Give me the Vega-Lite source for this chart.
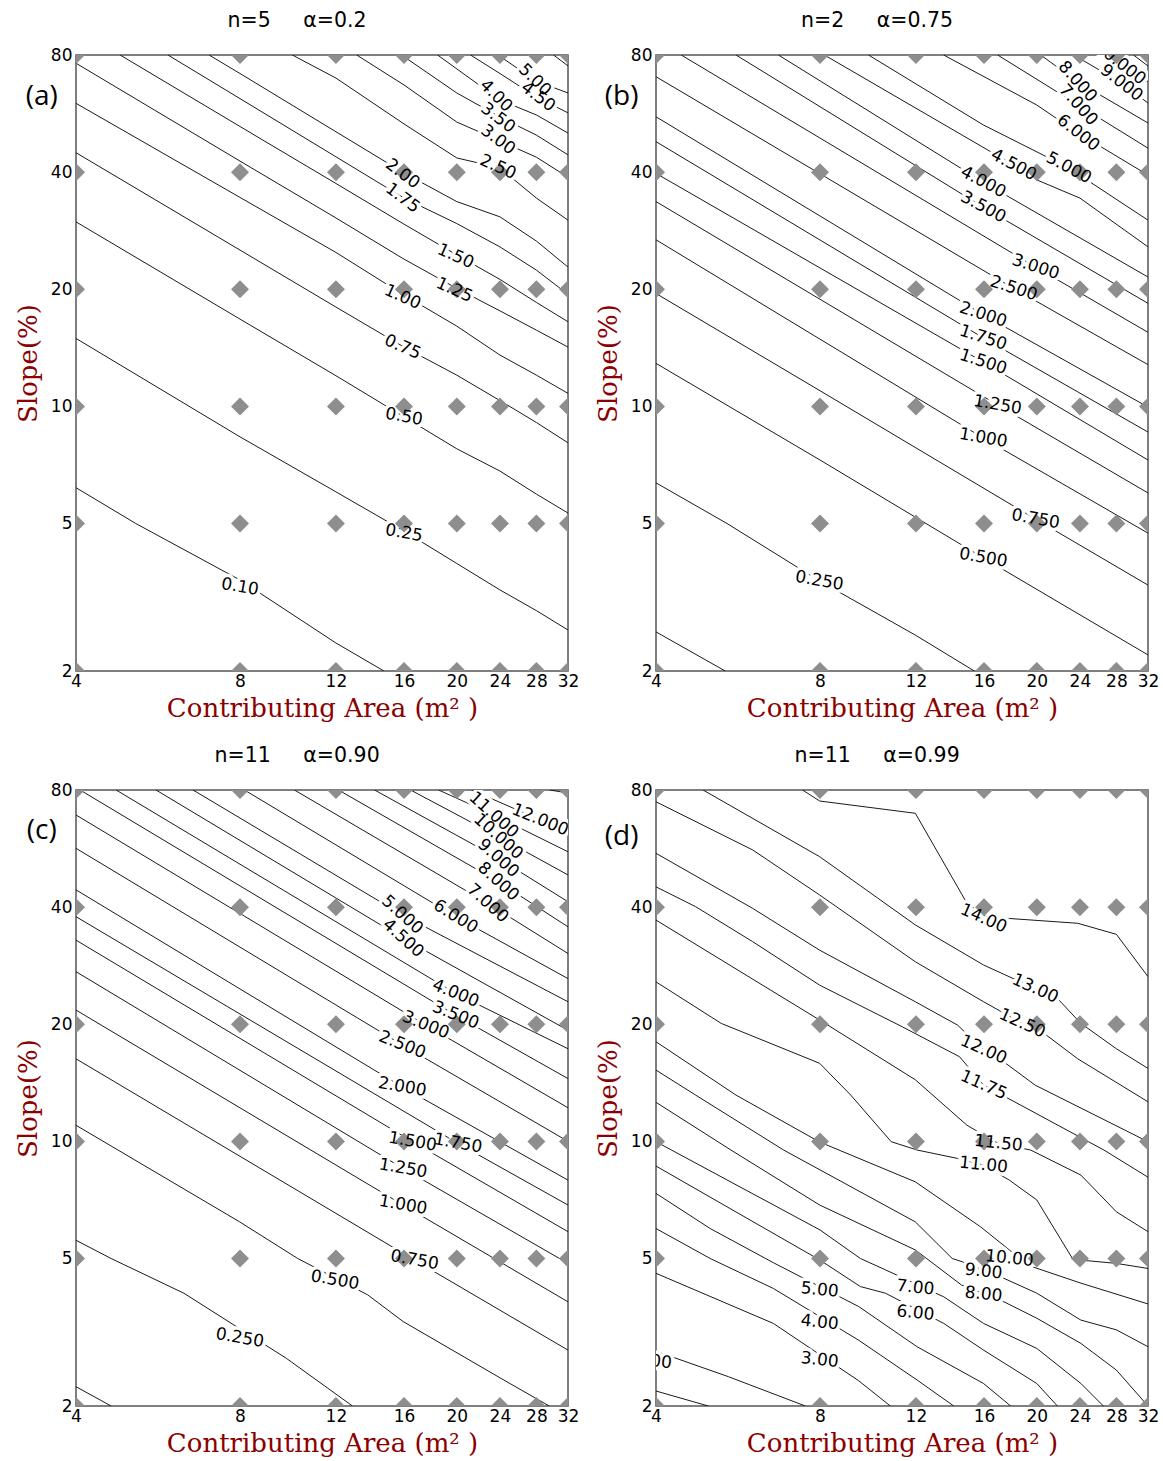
{
"$schema":"https://vega.github.io/schema/vega-lite/v6.json",
"background":"white",
"padding":{"left":14,"top":9,"right":5,"bottom":5},
"config":{
"view":{"stroke":"#555","strokeWidth":1.5},
"axis":{"labelFont":"DejaVu Sans","labelFontSize":17,"labelColor":"black","titleFont":"DejaVu Serif","titleFontSize":26,"titleFontWeight":"normal","titleColor":"#8b0000","grid":false,"ticks":false,"domain":false,"labelFlush":false,"labelOverlap":false},
"axisX":{"labelPadding":2,"titlePadding":6},
"axisY":{"labelPadding":4,"titlePadding":9},
"title":{"font":"DejaVu Sans","fontSize":20.5,"fontWeight":"normal","color":"black","anchor":"middle","frame":"bounds","offset":15}
},
"datasets":{
"grid":[
{"x":4,"y":2},{"x":8,"y":2},{"x":12,"y":2},{"x":16,"y":2},{"x":20,"y":2},{"x":24,"y":2},{"x":28,"y":2},{"x":32,"y":2},
{"x":4,"y":5},{"x":8,"y":5},{"x":12,"y":5},{"x":16,"y":5},{"x":20,"y":5},{"x":24,"y":5},{"x":28,"y":5},{"x":32,"y":5},
{"x":4,"y":10},{"x":8,"y":10},{"x":12,"y":10},{"x":16,"y":10},{"x":20,"y":10},{"x":24,"y":10},{"x":28,"y":10},{"x":32,"y":10},
{"x":4,"y":20},{"x":8,"y":20},{"x":12,"y":20},{"x":16,"y":20},{"x":20,"y":20},{"x":24,"y":20},{"x":28,"y":20},{"x":32,"y":20},
{"x":4,"y":40},{"x":8,"y":40},{"x":12,"y":40},{"x":16,"y":40},{"x":20,"y":40},{"x":24,"y":40},{"x":28,"y":40},{"x":32,"y":40},
{"x":4,"y":80},{"x":8,"y":80},{"x":12,"y":80},{"x":16,"y":80},{"x":20,"y":80},{"x":24,"y":80},{"x":28,"y":80},{"x":32,"y":80}
],
"tags":[
{"p":"a","t":"(a)","x":3.46,"y":62.5},
{"p":"b","t":"(b)","x":3.46,"y":62.5},
{"p":"c","t":"(c)","x":3.46,"y":62.6},
{"p":"d","t":"(d)","x":3.46,"y":60.7}
],
"labels":[
{"p":"a","t":"0.10","x":8,"y":3.37},{"p":"a","t":"0.25","x":16,"y":4.71},{"p":"a","t":"0.50","x":16,"y":9.4},{"p":"a","t":"0.75","x":15.9,"y":14.2},{"p":"a","t":"1.00","x":15.9,"y":19.1},{"p":"a","t":"1.25","x":19.8,"y":19.9},{"p":"a","t":"1.50","x":19.9,"y":24.3},{"p":"a","t":"1.75","x":15.9,"y":34.3},{"p":"a","t":"2.00","x":15.9,"y":39.6},{"p":"a","t":"2.50","x":23.8,"y":41.2},{"p":"a","t":"3.00","x":23.8,"y":48.4},{"p":"a","t":"3.50","x":23.8,"y":55.1},{"p":"a","t":"4.00","x":23.6,"y":62.8},{"p":"a","t":"4.50","x":28.2,"y":62.4},{"p":"a","t":"5.00","x":27.8,"y":69.0},
{"p":"b","t":"0.250","x":7.98,"y":3.5},{"p":"b","t":"0.500","x":15.95,"y":4.04},{"p":"b","t":"0.750","x":19.9,"y":5.13},{"p":"b","t":"1.000","x":15.95,"y":8.29},{"p":"b","t":"1.250","x":16.95,"y":10.08},{"p":"b","t":"1.500","x":15.95,"y":13.0},{"p":"b","t":"1.750","x":15.95,"y":15.0},{"p":"b","t":"2.000","x":15.95,"y":17.2},{"p":"b","t":"2.500","x":18.14,"y":20.1},{"p":"b","t":"3.000","x":19.9,"y":22.8},{"p":"b","t":"3.500","x":15.95,"y":32.5},{"p":"b","t":"4.000","x":15.95,"y":37.7},{"p":"b","t":"4.500","x":18.14,"y":41.7},{"p":"b","t":"5.000","x":22.89,"y":41.0},{"p":"b","t":"6.000","x":23.83,"y":50.4},{"p":"b","t":"7.000","x":23.83,"y":59.5},{"p":"b","t":"8.000","x":23.75,"y":68.3},{"p":"b","t":"9.000","x":28.6,"y":67.8},{"p":"b","t":"10.000","x":28.45,"y":76.2},
{"p":"c","t":"0.250","x":7.99,"y":3.05},{"p":"c","t":"0.500","x":11.95,"y":4.37},{"p":"c","t":"0.750","x":16.73,"y":4.95},{"p":"c","t":"1.000","x":15.94,"y":6.86},{"p":"c","t":"1.250","x":15.94,"y":8.52},{"p":"c","t":"1.500","x":16.59,"y":9.98},{"p":"c","t":"1.750","x":20.1,"y":9.88},{"p":"c","t":"2.000","x":15.88,"y":13.8},{"p":"c","t":"2.500","x":15.88,"y":17.7},{"p":"c","t":"3.000","x":17.54,"y":19.9},{"p":"c","t":"3.500","x":19.9,"y":21.1},{"p":"c","t":"4.000","x":19.9,"y":24.0},{"p":"c","t":"4.500","x":15.94,"y":33.25},{"p":"c","t":"5.000","x":15.88,"y":38.2},{"p":"c","t":"6.000","x":19.9,"y":37.8},{"p":"c","t":"7.000","x":22.79,"y":40.9},{"p":"c","t":"8.000","x":23.83,"y":46.5},{"p":"c","t":"9.000","x":23.83,"y":53.4},{"p":"c","t":"10.000","x":23.83,"y":60.7},{"p":"c","t":"11.000","x":23.38,"y":69.0},{"p":"c","t":"12.000","x":28.45,"y":67.0},
{"p":"d","t":"2.00","x":3.95,"y":2.64},{"p":"d","t":"3.00","x":7.99,"y":2.66},{"p":"d","t":"4.00","x":7.99,"y":3.36},{"p":"d","t":"5.00","x":7.99,"y":4.11},{"p":"d","t":"6.00","x":11.97,"y":3.56},{"p":"d","t":"7.00","x":11.97,"y":4.17},{"p":"d","t":"8.00","x":15.97,"y":4.0},{"p":"d","t":"9.00","x":15.97,"y":4.61},{"p":"d","t":"10.00","x":17.81,"y":5.0},{"p":"d","t":"11.00","x":15.97,"y":8.69},{"p":"d","t":"11.50","x":17.0,"y":9.88},{"p":"d","t":"11.75","x":15.97,"y":13.95},{"p":"d","t":"12.00","x":15.97,"y":17.2},{"p":"d","t":"12.50","x":18.81,"y":20.1},{"p":"d","t":"13.00","x":19.86,"y":24.7},{"p":"d","t":"14.00","x":15.97,"y":37.4}
],
"lines":[
{"p":"a","l":"0.10","x":4,"y":6.18},{"p":"a","l":"0.10","x":5.15,"y":5.0},{"p":"a","l":"0.10","x":8,"y":3.52},{"p":"a","l":"0.10","x":12,"y":2.38},{"p":"a","l":"0.10","x":14.7,"y":2},
{"p":"a","l":"0.25","x":4,"y":14.95},{"p":"a","l":"0.25","x":8,"y":8.35},{"p":"a","l":"0.25","x":12,"y":6.03},{"p":"a","l":"0.25","x":16,"y":4.77},{"p":"a","l":"0.25","x":20,"y":3.9},{"p":"a","l":"0.25","x":24,"y":3.31},{"p":"a","l":"0.25","x":28,"y":2.91},{"p":"a","l":"0.25","x":32,"y":2.58},
{"p":"a","l":"0.50","x":4,"y":29.8},{"p":"a","l":"0.50","x":8,"y":16.76},{"p":"a","l":"0.50","x":12,"y":11.99},{"p":"a","l":"0.50","x":16,"y":9.4},{"p":"a","l":"0.50","x":20,"y":7.78},{"p":"a","l":"0.50","x":24,"y":6.82},{"p":"a","l":"0.50","x":28,"y":5.95},{"p":"a","l":"0.50","x":32,"y":5.32},
{"p":"a","l":"0.75","x":4,"y":44.87},{"p":"a","l":"0.75","x":8,"y":25.22},{"p":"a","l":"0.75","x":12,"y":18},{"p":"a","l":"0.75","x":16,"y":14.2},{"p":"a","l":"0.75","x":20,"y":12.03},{"p":"a","l":"0.75","x":24,"y":10.35},{"p":"a","l":"0.75","x":28,"y":9.09},{"p":"a","l":"0.75","x":32,"y":8.06},
{"p":"a","l":"1.00","x":4,"y":60.1},{"p":"a","l":"1.00","x":8,"y":34.44},{"p":"a","l":"1.00","x":12,"y":24.87},{"p":"a","l":"1.00","x":16,"y":19.32},{"p":"a","l":"1.00","x":20,"y":16.08},{"p":"a","l":"1.00","x":24,"y":13.55},{"p":"a","l":"1.00","x":28,"y":12.03},{"p":"a","l":"1.00","x":32,"y":10.8},
{"p":"a","l":"1.25","x":4,"y":76.2},{"p":"a","l":"1.25","x":8,"y":42.7},{"p":"a","l":"1.25","x":12,"y":30.5},{"p":"a","l":"1.25","x":16,"y":23.9},{"p":"a","l":"1.25","x":20,"y":20.1},{"p":"a","l":"1.25","x":24,"y":17.6},{"p":"a","l":"1.25","x":28,"y":15.7},{"p":"a","l":"1.25","x":32,"y":14.2},
{"p":"a","l":"1.50","x":4.82,"y":80},{"p":"a","l":"1.50","x":8,"y":52.4},{"p":"a","l":"1.50","x":12,"y":37.4},{"p":"a","l":"1.50","x":16,"y":29.4},{"p":"a","l":"1.50","x":20,"y":24.5},{"p":"a","l":"1.50","x":24,"y":21.2},{"p":"a","l":"1.50","x":28,"y":18.5},{"p":"a","l":"1.50","x":32,"y":16.5},
{"p":"a","l":"1.75","x":5.9,"y":80},{"p":"a","l":"1.75","x":8,"y":61.8},{"p":"a","l":"1.75","x":12,"y":43.8},{"p":"a","l":"1.75","x":16,"y":34.3},{"p":"a","l":"1.75","x":20,"y":29.5},{"p":"a","l":"1.75","x":24,"y":25.7},{"p":"a","l":"1.75","x":28,"y":22.4},{"p":"a","l":"1.75","x":32,"y":19.4},
{"p":"a","l":"2.00","x":7.02,"y":80},{"p":"a","l":"2.00","x":8,"y":71.7},{"p":"a","l":"2.00","x":12,"y":50.8},{"p":"a","l":"2.00","x":16,"y":39.8},{"p":"a","l":"2.00","x":20,"y":33.6},{"p":"a","l":"2.00","x":24,"y":30.7},{"p":"a","l":"2.00","x":28,"y":26.6},{"p":"a","l":"2.00","x":32,"y":22.8},
{"p":"a","l":"2.50","x":9.98,"y":80},{"p":"a","l":"2.50","x":12,"y":69.8},{"p":"a","l":"2.50","x":16,"y":53.2},{"p":"a","l":"2.50","x":20,"y":43.5},{"p":"a","l":"2.50","x":24,"y":41},{"p":"a","l":"2.50","x":28,"y":34.3},{"p":"a","l":"2.50","x":32,"y":30.1},
{"p":"a","l":"3.00","x":13.1,"y":80},{"p":"a","l":"3.00","x":16,"y":67},{"p":"a","l":"3.00","x":20,"y":53.8},{"p":"a","l":"3.00","x":24,"y":48.1},{"p":"a","l":"3.00","x":28,"y":43.7},{"p":"a","l":"3.00","x":32,"y":38.8},
{"p":"a","l":"3.50","x":15.84,"y":80},{"p":"a","l":"3.50","x":20,"y":63.9},{"p":"a","l":"3.50","x":24,"y":55.4},{"p":"a","l":"3.50","x":28,"y":49.8},{"p":"a","l":"3.50","x":32,"y":44.3},
{"p":"a","l":"4.00","x":18.44,"y":80},{"p":"a","l":"4.00","x":24,"y":61.3},{"p":"a","l":"4.00","x":28,"y":56.1},{"p":"a","l":"4.00","x":32,"y":50.4},
{"p":"a","l":"4.50","x":21.2,"y":80},{"p":"a","l":"4.50","x":24,"y":71.7},{"p":"a","l":"4.50","x":28,"y":62.4},{"p":"a","l":"4.50","x":32,"y":56.8},
{"p":"a","l":"5.00","x":23.8,"y":80},{"p":"a","l":"5.00","x":28,"y":68.5},{"p":"a","l":"5.00","x":32,"y":63.9},
{"p":"a","l":"5.50","x":30.1,"y":80},{"p":"a","l":"5.50","x":32,"y":75},
{"p":"b","l":"0.100","x":4,"y":2.55},{"p":"b","l":"0.100","x":5.36,"y":2},
{"p":"b","l":"0.250","x":4,"y":6.36},{"p":"b","l":"0.250","x":5.4,"y":5.0},{"p":"b","l":"0.250","x":7.98,"y":3.5},{"p":"b","l":"0.250","x":11.97,"y":2.5},{"p":"b","l":"0.250","x":15.36,"y":2},
{"p":"b","l":"0.500","x":4,"y":12.9},{"p":"b","l":"0.500","x":8,"y":7.28},{"p":"b","l":"0.500","x":15.95,"y":4.04},{"p":"b","l":"0.500","x":32,"y":2.21},
{"p":"b","l":"0.750","x":4,"y":19.5},{"p":"b","l":"0.750","x":8,"y":10.97},{"p":"b","l":"0.750","x":19.9,"y":5.13},{"p":"b","l":"0.750","x":32,"y":3.41},
{"p":"b","l":"1.000","x":4,"y":26.8},{"p":"b","l":"1.000","x":15.95,"y":8.29},{"p":"b","l":"1.000","x":32,"y":4.71},
{"p":"b","l":"1.250","x":4,"y":33.6},{"p":"b","l":"1.250","x":16.95,"y":10.08},{"p":"b","l":"1.250","x":32,"y":5.99},
{"p":"b","l":"1.500","x":4,"y":39.7},{"p":"b","l":"1.500","x":15.95,"y":13.0},{"p":"b","l":"1.500","x":32,"y":7.28},
{"p":"b","l":"1.750","x":4,"y":47.9},{"p":"b","l":"1.750","x":15.95,"y":15.0},{"p":"b","l":"1.750","x":32,"y":8.59},
{"p":"b","l":"2.000","x":4,"y":55.5},{"p":"b","l":"2.000","x":15.95,"y":17.2},{"p":"b","l":"2.000","x":32,"y":9.96},
{"p":"b","l":"2.500","x":4,"y":70.35},{"p":"b","l":"2.500","x":18.14,"y":20.1},{"p":"b","l":"2.500","x":32,"y":12.8},
{"p":"b","l":"3.000","x":4.45,"y":80},{"p":"b","l":"3.000","x":19.9,"y":22.8},{"p":"b","l":"3.000","x":32,"y":15.5},
{"p":"b","l":"3.500","x":5.61,"y":80},{"p":"b","l":"3.500","x":15.95,"y":32.5},{"p":"b","l":"3.500","x":32,"y":18.4},
{"p":"b","l":"4.000","x":6.71,"y":80},{"p":"b","l":"4.000","x":15.95,"y":37.7},{"p":"b","l":"4.000","x":32,"y":21.5},
{"p":"b","l":"4.500","x":8.15,"y":80},{"p":"b","l":"4.500","x":18.14,"y":41.7},{"p":"b","l":"4.500","x":20,"y":38.2},{"p":"b","l":"4.500","x":24,"y":34.3},{"p":"b","l":"4.500","x":32,"y":25.7},
{"p":"b","l":"5.000","x":9.82,"y":80},{"p":"b","l":"5.000","x":15.95,"y":52.9},{"p":"b","l":"5.000","x":22.89,"y":41.0},{"p":"b","l":"5.000","x":32,"y":30.1},
{"p":"b","l":"6.000","x":13.49,"y":80},{"p":"b","l":"6.000","x":20,"y":59.5},{"p":"b","l":"6.000","x":23.83,"y":50.4},{"p":"b","l":"6.000","x":32,"y":39.3},
{"p":"b","l":"7.000","x":16.95,"y":80},{"p":"b","l":"7.000","x":23.83,"y":59.5},{"p":"b","l":"7.000","x":32,"y":46.1},
{"p":"b","l":"8.000","x":20.33,"y":80},{"p":"b","l":"8.000","x":23.75,"y":68.3},{"p":"b","l":"8.000","x":32,"y":53.5},
{"p":"b","l":"9.000","x":23.38,"y":80},{"p":"b","l":"9.000","x":28.6,"y":67.8},{"p":"b","l":"9.000","x":32,"y":60.2},
{"p":"b","l":"10.000","x":26.5,"y":80},{"p":"b","l":"10.000","x":28.45,"y":76.2},{"p":"b","l":"10.000","x":32,"y":68.2},
{"p":"b","l":"11.000","x":30.1,"y":80},{"p":"b","l":"11.000","x":32,"y":74.95},
{"p":"c","l":"0.100","x":4,"y":2.255},{"p":"c","l":"0.100","x":4.64,"y":2},
{"p":"c","l":"0.250","x":4,"y":5.57},{"p":"c","l":"0.250","x":4.64,"y":5.0},{"p":"c","l":"0.250","x":6.31,"y":4.03},{"p":"c","l":"0.250","x":9.73,"y":2.69},{"p":"c","l":"0.250","x":12.87,"y":2},
{"p":"c","l":"0.500","x":4,"y":11.0},{"p":"c","l":"0.500","x":7.99,"y":6.21},{"p":"c","l":"0.500","x":10.21,"y":5.0},{"p":"c","l":"0.500","x":13.72,"y":3.99},{"p":"c","l":"0.500","x":15.94,"y":3.38},{"p":"c","l":"0.500","x":24.1,"y":2.375},{"p":"c","l":"0.500","x":29.55,"y":2},
{"p":"c","l":"0.750","x":4,"y":16.3},{"p":"c","l":"0.750","x":16.73,"y":4.95},{"p":"c","l":"0.750","x":32,"y":2.83},
{"p":"c","l":"1.000","x":4,"y":21.75},{"p":"c","l":"1.000","x":15.94,"y":6.86},{"p":"c","l":"1.000","x":32,"y":3.82},
{"p":"c","l":"1.250","x":4,"y":27.3},{"p":"c","l":"1.250","x":15.94,"y":8.52},{"p":"c","l":"1.250","x":32,"y":4.85},
{"p":"c","l":"1.500","x":4,"y":32.9},{"p":"c","l":"1.500","x":16.59,"y":9.98},{"p":"c","l":"1.500","x":32,"y":5.86},
{"p":"c","l":"1.750","x":4,"y":37.8},{"p":"c","l":"1.750","x":20.1,"y":9.88},{"p":"c","l":"1.750","x":32,"y":6.86},
{"p":"c","l":"2.000","x":4,"y":44.3},{"p":"c","l":"2.000","x":15.88,"y":13.8},{"p":"c","l":"2.000","x":32,"y":7.95},
{"p":"c","l":"2.500","x":4,"y":56.65},{"p":"c","l":"2.500","x":15.88,"y":17.7},{"p":"c","l":"2.500","x":32,"y":10.0},
{"p":"c","l":"3.000","x":4,"y":69.0},{"p":"c","l":"3.000","x":17.54,"y":19.9},{"p":"c","l":"3.000","x":32,"y":12.2},
{"p":"c","l":"3.500","x":4.07,"y":80},{"p":"c","l":"3.500","x":19.9,"y":21.1},{"p":"c","l":"3.500","x":32,"y":14.5},
{"p":"c","l":"4.000","x":4.74,"y":80},{"p":"c","l":"4.000","x":19.9,"y":24.0},{"p":"c","l":"4.000","x":32,"y":17.3},
{"p":"c","l":"4.500","x":5.61,"y":80},{"p":"c","l":"4.500","x":15.94,"y":33.25},{"p":"c","l":"4.500","x":32,"y":19.3},
{"p":"c","l":"5.000","x":6.56,"y":80},{"p":"c","l":"5.000","x":15.88,"y":38.2},{"p":"c","l":"5.000","x":32,"y":22.85},
{"p":"c","l":"6.000","x":8.15,"y":80},{"p":"c","l":"6.000","x":19.9,"y":37.8},{"p":"c","l":"6.000","x":32,"y":26.2},
{"p":"c","l":"7.000","x":10.07,"y":80},{"p":"c","l":"7.000","x":22.79,"y":40.9},{"p":"c","l":"7.000","x":32,"y":30.4},
{"p":"c","l":"8.000","x":12.13,"y":80},{"p":"c","l":"8.000","x":23.83,"y":46.5},{"p":"c","l":"8.000","x":32,"y":35.6},
{"p":"c","l":"9.000","x":14.13,"y":80},{"p":"c","l":"9.000","x":23.83,"y":53.4},{"p":"c","l":"9.000","x":32,"y":41.3},
{"p":"c","l":"10.000","x":16.45,"y":80},{"p":"c","l":"10.000","x":23.83,"y":60.7},{"p":"c","l":"10.000","x":32,"y":48.4},
{"p":"c","l":"11.000","x":18.52,"y":80},{"p":"c","l":"11.000","x":23.38,"y":69.0},{"p":"c","l":"11.000","x":32,"y":55.5},
{"p":"c","l":"12.000","x":21.3,"y":80},{"p":"c","l":"12.000","x":28.45,"y":67.0},{"p":"c","l":"12.000","x":32,"y":63.8},
{"p":"c","l":"13.000","x":29.6,"y":80},{"p":"c","l":"13.000","x":32,"y":78.6},
{"p":"d","l":"1.00","x":4,"y":2.195},{"p":"d","l":"1.00","x":4.99,"y":2},
{"p":"d","l":"2.00","x":4,"y":2.81},{"p":"d","l":"2.00","x":5.43,"y":2.4},{"p":"d","l":"2.00","x":7.52,"y":2},
{"p":"d","l":"3.00","x":4,"y":4.56},{"p":"d","l":"3.00","x":6.57,"y":3.34},{"p":"d","l":"3.00","x":9.42,"y":2.34},{"p":"d","l":"3.00","x":10.77,"y":2},
{"p":"d","l":"4.00","x":4,"y":5.97},{"p":"d","l":"4.00","x":5.03,"y":5.0},{"p":"d","l":"4.00","x":6.57,"y":4.15},{"p":"d","l":"4.00","x":9.42,"y":3.01},{"p":"d","l":"4.00","x":12.06,"y":2.35},{"p":"d","l":"4.00","x":14.08,"y":2},
{"p":"d","l":"5.00","x":4,"y":7.35},{"p":"d","l":"5.00","x":5.03,"y":5.97},{"p":"d","l":"5.00","x":6.57,"y":4.87},{"p":"d","l":"5.00","x":9.42,"y":3.71},{"p":"d","l":"5.00","x":12.06,"y":2.89},{"p":"d","l":"5.00","x":15.97,"y":2.3},{"p":"d","l":"5.00","x":17.91,"y":2},
{"p":"d","l":"6.00","x":4,"y":8.64},{"p":"d","l":"6.00","x":8,"y":4.95},{"p":"d","l":"6.00","x":9.49,"y":4.2},{"p":"d","l":"6.00","x":10.55,"y":4.03},{"p":"d","l":"6.00","x":13.5,"y":3.34},{"p":"d","l":"6.00","x":15.97,"y":2.83},{"p":"d","l":"6.00","x":20,"y":2.3},{"p":"d","l":"6.00","x":21.82,"y":2},
{"p":"d","l":"7.00","x":4,"y":9.98},{"p":"d","l":"7.00","x":4.27,"y":9.5},{"p":"d","l":"7.00","x":8,"y":5.92},{"p":"d","l":"7.00","x":9.49,"y":5.0},{"p":"d","l":"7.00","x":10.55,"y":4.66},{"p":"d","l":"7.00","x":13.5,"y":3.94},{"p":"d","l":"7.00","x":15.97,"y":3.34},{"p":"d","l":"7.00","x":20,"y":2.86},{"p":"d","l":"7.00","x":24.1,"y":2.3},{"p":"d","l":"7.00","x":26.5,"y":2},
{"p":"d","l":"8.00","x":4,"y":12.6},{"p":"d","l":"8.00","x":5.49,"y":9.5},{"p":"d","l":"8.00","x":7.99,"y":6.86},{"p":"d","l":"8.00","x":11.97,"y":5.26},{"p":"d","l":"8.00","x":14.55,"y":4.24},{"p":"d","l":"8.00","x":17.41,"y":3.82},{"p":"d","l":"8.00","x":20,"y":3.45},{"p":"d","l":"8.00","x":24.1,"y":2.95},{"p":"d","l":"8.00","x":28,"y":2.5},{"p":"d","l":"8.00","x":32,"y":2},
{"p":"d","l":"9.00","x":4,"y":15.25},{"p":"d","l":"9.00","x":4.73,"y":13.15},{"p":"d","l":"9.00","x":6.86,"y":9.5},{"p":"d","l":"9.00","x":11.97,"y":6.21},{"p":"d","l":"9.00","x":13.99,"y":5.0},{"p":"d","l":"9.00","x":14.59,"y":4.9},{"p":"d","l":"9.00","x":17.41,"y":4.42},{"p":"d","l":"9.00","x":20,"y":4.03},{"p":"d","l":"9.00","x":24.1,"y":3.41},{"p":"d","l":"9.00","x":28,"y":3.21},{"p":"d","l":"9.00","x":32,"y":2.89},
{"p":"d","l":"10.00","x":4,"y":18.03},{"p":"d","l":"10.00","x":5.61,"y":13.15},{"p":"d","l":"10.00","x":7.99,"y":9.96},{"p":"d","l":"10.00","x":11.97,"y":7.87},{"p":"d","l":"10.00","x":15.77,"y":6.03},{"p":"d","l":"10.00","x":17.81,"y":5.26},{"p":"d","l":"10.00","x":19.22,"y":4.8},{"p":"d","l":"10.00","x":24.1,"y":4.29},{"p":"d","l":"10.00","x":32,"y":3.77},
{"p":"d","l":"11.00","x":4,"y":25.7},{"p":"d","l":"11.00","x":5.27,"y":20.1},{"p":"d","l":"11.00","x":7.99,"y":15.87},{"p":"d","l":"11.00","x":9.11,"y":13.15},{"p":"d","l":"11.00","x":10.81,"y":9.98},{"p":"d","l":"11.00","x":12.06,"y":9.5},{"p":"d","l":"11.00","x":14.31,"y":9.04},{"p":"d","l":"11.00","x":15.97,"y":8.69},{"p":"d","l":"11.00","x":17.81,"y":7.95},{"p":"d","l":"11.00","x":20,"y":7.07},{"p":"d","l":"11.00","x":23.25,"y":5.0},{"p":"d","l":"11.00","x":24.1,"y":4.95},{"p":"d","l":"11.00","x":28,"y":4.85},{"p":"d","l":"11.00","x":32,"y":4.7},
{"p":"d","l":"11.50","x":4,"y":37.05},{"p":"d","l":"11.50","x":7.99,"y":20.5},{"p":"d","l":"11.50","x":11.97,"y":14.4},{"p":"d","l":"11.50","x":14.89,"y":11.0},{"p":"d","l":"11.50","x":17,"y":9.88},{"p":"d","l":"11.50","x":19.49,"y":9.5},{"p":"d","l":"11.50","x":24.1,"y":8.19},{"p":"d","l":"11.50","x":28,"y":6.59},{"p":"d","l":"11.50","x":32,"y":5.86},
{"p":"d","l":"11.75","x":4,"y":45.1},{"p":"d","l":"11.75","x":4.73,"y":40.1},{"p":"d","l":"11.75","x":6.02,"y":32.6},{"p":"d","l":"11.75","x":7.99,"y":25.2},{"p":"d","l":"11.75","x":11.33,"y":19.7},{"p":"d","l":"11.75","x":14.43,"y":16.5},{"p":"d","l":"11.75","x":15.97,"y":13.95},{"p":"d","l":"11.75","x":26.56,"y":9.5},{"p":"d","l":"11.75","x":32,"y":8.09},
{"p":"d","l":"12.00","x":4,"y":55.0},{"p":"d","l":"12.00","x":6.02,"y":39.7},{"p":"d","l":"12.00","x":7.99,"y":31.0},{"p":"d","l":"12.00","x":11.97,"y":22.85},{"p":"d","l":"12.00","x":14.31,"y":19.9},{"p":"d","l":"12.00","x":15.97,"y":17.2},{"p":"d","l":"12.00","x":17.54,"y":15.87},{"p":"d","l":"12.00","x":19.86,"y":13.95},{"p":"d","l":"12.00","x":32,"y":9.98},
{"p":"d","l":"12.50","x":4,"y":74.6},{"p":"d","l":"12.50","x":6.02,"y":56.1},{"p":"d","l":"12.50","x":7.99,"y":42.97},{"p":"d","l":"12.50","x":11.97,"y":28.95},{"p":"d","l":"12.50","x":15.97,"y":22.85},{"p":"d","l":"12.50","x":18.81,"y":20.1},{"p":"d","l":"12.50","x":20.82,"y":18.76},{"p":"d","l":"12.50","x":23.78,"y":16.3},{"p":"d","l":"12.50","x":32,"y":12.64},
{"p":"d","l":"13.00","x":4.88,"y":80},{"p":"d","l":"13.00","x":7.99,"y":53.9},{"p":"d","l":"13.00","x":11.97,"y":36.0},{"p":"d","l":"13.00","x":15.97,"y":28.4},{"p":"d","l":"13.00","x":19.86,"y":24.7},{"p":"d","l":"13.00","x":21.82,"y":23.3},{"p":"d","l":"13.00","x":24.1,"y":20.1},{"p":"d","l":"13.00","x":28,"y":17.3},{"p":"d","l":"13.00","x":32,"y":15.4},
{"p":"d","l":"14.00","x":7.43,"y":80},{"p":"d","l":"14.00","x":7.99,"y":74.95},{"p":"d","l":"14.00","x":11.97,"y":69.7},{"p":"d","l":"14.00","x":14.89,"y":40.9},{"p":"d","l":"14.00","x":16.18,"y":37.7},{"p":"d","l":"14.00","x":17.81,"y":37.4},{"p":"d","l":"14.00","x":23.78,"y":36.35},{"p":"d","l":"14.00","x":28,"y":34.05},{"p":"d","l":"14.00","x":32,"y":26.5}
]
},
"columns":2,
"spacing":{"row":119,"column":88},
"bounds":"flush",
"concat":[
{"width":492,"height":616,
"title":{"text":"n=5\u00a0\u00a0\u00a0\u00a0\u00a0α=0.2"},
"encoding":{
"x":{"field":"x","type":"quantitative","scale":{"type":"log","domain":[4,32],"nice":false},"axis":{"values":[4,8,12,16,20,24,28,32],"format":"d","title":"Contributing Area (m² )"}},
"y":{"field":"y","type":"quantitative","scale":{"type":"log","domain":[2,5,80],"range":[616,468.5,0],"nice":false},"axis":{"values":[2,5,10,20,40,80],"format":"d","title":"Slope(%)"}}},
"layer":[
{"data":{"name":"lines"},"transform":[{"filter":"datum.p=='a'"}],"mark":{"type":"line","clip":true,"color":"#1a1a1a","strokeWidth":1},"encoding":{"detail":{"field":"l"}}},
{"data":{"name":"labels"},"transform":[{"filter":{"and":[{"field":"p","equal":"a"},{"field":"t","oneOf":["0.10","0.25","0.50"]}]}}],"mark":{"type":"text","angle":10,"font":"DejaVu Sans","fontSize":17,"fill":"white","stroke":"white","strokeWidth":7,"strokeJoin":"round","clip":true},"encoding":{"text":{"field":"t"}}},
{"data":{"name":"labels"},"transform":[{"filter":{"and":[{"field":"p","equal":"a"},{"field":"t","oneOf":["0.75","1.00","1.25","1.50","2.50"]}]}}],"mark":{"type":"text","angle":24,"font":"DejaVu Sans","fontSize":17,"fill":"white","stroke":"white","strokeWidth":7,"strokeJoin":"round","clip":true},"encoding":{"text":{"field":"t"}}},
{"data":{"name":"labels"},"transform":[{"filter":{"and":[{"field":"p","equal":"a"},{"field":"t","oneOf":["1.75","2.00","3.00","3.50","4.50"]}]}}],"mark":{"type":"text","angle":37,"font":"DejaVu Sans","fontSize":17,"fill":"white","stroke":"white","strokeWidth":7,"strokeJoin":"round","clip":true},"encoding":{"text":{"field":"t"}}},
{"data":{"name":"labels"},"transform":[{"filter":{"and":[{"field":"p","equal":"a"},{"field":"t","oneOf":["4.00","5.00"]}]}}],"mark":{"type":"text","angle":45,"font":"DejaVu Sans","fontSize":17,"fill":"white","stroke":"white","strokeWidth":7,"strokeJoin":"round","clip":true},"encoding":{"text":{"field":"t"}}},
{"data":{"name":"grid"},"mark":{"type":"point","shape":"diamond","filled":true,"size":324,"color":"#8e8e8e","opacity":1,"clip":true}},
{"data":{"name":"labels"},"transform":[{"filter":{"and":[{"field":"p","equal":"a"},{"field":"t","oneOf":["0.10","0.25","0.50"]}]}}],"mark":{"type":"text","angle":10,"font":"DejaVu Sans","fontSize":17,"fill":"black","clip":true},"encoding":{"text":{"field":"t"}}},
{"data":{"name":"labels"},"transform":[{"filter":{"and":[{"field":"p","equal":"a"},{"field":"t","oneOf":["0.75","1.00","1.25","1.50","2.50"]}]}}],"mark":{"type":"text","angle":24,"font":"DejaVu Sans","fontSize":17,"fill":"black","clip":true},"encoding":{"text":{"field":"t"}}},
{"data":{"name":"labels"},"transform":[{"filter":{"and":[{"field":"p","equal":"a"},{"field":"t","oneOf":["1.75","2.00","3.00","3.50","4.50"]}]}}],"mark":{"type":"text","angle":37,"font":"DejaVu Sans","fontSize":17,"fill":"black","clip":true},"encoding":{"text":{"field":"t"}}},
{"data":{"name":"labels"},"transform":[{"filter":{"and":[{"field":"p","equal":"a"},{"field":"t","oneOf":["4.00","5.00"]}]}}],"mark":{"type":"text","angle":45,"font":"DejaVu Sans","fontSize":17,"fill":"black","clip":true},"encoding":{"text":{"field":"t"}}},
{"data":{"name":"tags"},"transform":[{"filter":"datum.p=='a'"}],"mark":{"type":"text","font":"Open Sans","fontSize":28,"fill":"black"},"encoding":{"text":{"field":"t"}}}
]},
{"width":492,"height":616,
"title":{"text":"n=2\u00a0\u00a0\u00a0\u00a0\u00a0α=0.75"},
"encoding":{
"x":{"field":"x","type":"quantitative","scale":{"type":"log","domain":[4,32],"nice":false},"axis":{"values":[4,8,12,16,20,24,28,32],"format":"d","title":"Contributing Area (m² )"}},
"y":{"field":"y","type":"quantitative","scale":{"type":"log","domain":[2,5,80],"range":[616,468.5,0],"nice":false},"axis":{"values":[2,5,10,20,40,80],"format":"d","title":"Slope(%)"}}},
"layer":[
{"data":{"name":"lines"},"transform":[{"filter":"datum.p=='b'"}],"mark":{"type":"line","clip":true,"color":"#1a1a1a","strokeWidth":1},"encoding":{"detail":{"field":"l"}}},
{"data":{"name":"labels"},"transform":[{"filter":{"and":[{"field":"p","equal":"b"},{"field":"t","oneOf":["0.250","0.500","0.750","1.000","1.250"]}]}}],"mark":{"type":"text","angle":10,"font":"DejaVu Sans","fontSize":17,"fill":"white","stroke":"white","strokeWidth":7,"strokeJoin":"round","clip":true},"encoding":{"text":{"field":"t"}}},
{"data":{"name":"labels"},"transform":[{"filter":{"and":[{"field":"p","equal":"b"},{"field":"t","oneOf":["1.500","1.750","2.000","2.500","3.000"]}]}}],"mark":{"type":"text","angle":18,"font":"DejaVu Sans","fontSize":17,"fill":"white","stroke":"white","strokeWidth":7,"strokeJoin":"round","clip":true},"encoding":{"text":{"field":"t"}}},
{"data":{"name":"labels"},"transform":[{"filter":{"and":[{"field":"p","equal":"b"},{"field":"t","oneOf":["3.500","4.000","4.500","5.000"]}]}}],"mark":{"type":"text","angle":28,"font":"DejaVu Sans","fontSize":17,"fill":"white","stroke":"white","strokeWidth":7,"strokeJoin":"round","clip":true},"encoding":{"text":{"field":"t"}}},
{"data":{"name":"labels"},"transform":[{"filter":{"and":[{"field":"p","equal":"b"},{"field":"t","oneOf":["6.000","9.000","10.000"]}]}}],"mark":{"type":"text","angle":38,"font":"DejaVu Sans","fontSize":17,"fill":"white","stroke":"white","strokeWidth":7,"strokeJoin":"round","clip":true},"encoding":{"text":{"field":"t"}}},
{"data":{"name":"labels"},"transform":[{"filter":{"and":[{"field":"p","equal":"b"},{"field":"t","oneOf":["7.000","8.000"]}]}}],"mark":{"type":"text","angle":48,"font":"DejaVu Sans","fontSize":17,"fill":"white","stroke":"white","strokeWidth":7,"strokeJoin":"round","clip":true},"encoding":{"text":{"field":"t"}}},
{"data":{"name":"grid"},"mark":{"type":"point","shape":"diamond","filled":true,"size":324,"color":"#8e8e8e","opacity":1,"clip":true}},
{"data":{"name":"labels"},"transform":[{"filter":{"and":[{"field":"p","equal":"b"},{"field":"t","oneOf":["0.250","0.500","0.750","1.000","1.250"]}]}}],"mark":{"type":"text","angle":10,"font":"DejaVu Sans","fontSize":17,"fill":"black","clip":true},"encoding":{"text":{"field":"t"}}},
{"data":{"name":"labels"},"transform":[{"filter":{"and":[{"field":"p","equal":"b"},{"field":"t","oneOf":["1.500","1.750","2.000","2.500","3.000"]}]}}],"mark":{"type":"text","angle":18,"font":"DejaVu Sans","fontSize":17,"fill":"black","clip":true},"encoding":{"text":{"field":"t"}}},
{"data":{"name":"labels"},"transform":[{"filter":{"and":[{"field":"p","equal":"b"},{"field":"t","oneOf":["3.500","4.000","4.500","5.000"]}]}}],"mark":{"type":"text","angle":28,"font":"DejaVu Sans","fontSize":17,"fill":"black","clip":true},"encoding":{"text":{"field":"t"}}},
{"data":{"name":"labels"},"transform":[{"filter":{"and":[{"field":"p","equal":"b"},{"field":"t","oneOf":["6.000","9.000","10.000"]}]}}],"mark":{"type":"text","angle":38,"font":"DejaVu Sans","fontSize":17,"fill":"black","clip":true},"encoding":{"text":{"field":"t"}}},
{"data":{"name":"labels"},"transform":[{"filter":{"and":[{"field":"p","equal":"b"},{"field":"t","oneOf":["7.000","8.000"]}]}}],"mark":{"type":"text","angle":48,"font":"DejaVu Sans","fontSize":17,"fill":"black","clip":true},"encoding":{"text":{"field":"t"}}},
{"data":{"name":"tags"},"transform":[{"filter":"datum.p=='b'"}],"mark":{"type":"text","font":"Open Sans","fontSize":28,"fill":"black"},"encoding":{"text":{"field":"t"}}}
]},
{"width":492,"height":616,
"title":{"text":"n=11\u00a0\u00a0\u00a0\u00a0\u00a0α=0.90"},
"encoding":{
"x":{"field":"x","type":"quantitative","scale":{"type":"log","domain":[4,32],"nice":false},"axis":{"values":[4,8,12,16,20,24,28,32],"format":"d","title":"Contributing Area (m² )"}},
"y":{"field":"y","type":"quantitative","scale":{"type":"log","domain":[2,5,80],"range":[616,468.5,0],"nice":false},"axis":{"values":[2,5,10,20,40,80],"format":"d","title":"Slope(%)"}}},
"layer":[
{"data":{"name":"lines"},"transform":[{"filter":"datum.p=='c'"}],"mark":{"type":"line","clip":true,"color":"#1a1a1a","strokeWidth":1},"encoding":{"detail":{"field":"l"}}},
{"data":{"name":"labels"},"transform":[{"filter":{"and":[{"field":"p","equal":"c"},{"field":"t","oneOf":["0.250","0.500","0.750","1.000","1.250","1.500","1.750","2.000"]}]}}],"mark":{"type":"text","angle":10,"font":"DejaVu Sans","fontSize":17,"fill":"white","stroke":"white","strokeWidth":7,"strokeJoin":"round","clip":true},"encoding":{"text":{"field":"t"}}},
{"data":{"name":"labels"},"transform":[{"filter":{"and":[{"field":"p","equal":"c"},{"field":"t","oneOf":["2.500","3.000","3.500","4.000","12.000"]}]}}],"mark":{"type":"text","angle":22,"font":"DejaVu Sans","fontSize":17,"fill":"white","stroke":"white","strokeWidth":7,"strokeJoin":"round","clip":true},"encoding":{"text":{"field":"t"}}},
{"data":{"name":"labels"},"transform":[{"filter":{"and":[{"field":"p","equal":"c"},{"field":"t","oneOf":["6.000"]}]}}],"mark":{"type":"text","angle":32,"font":"DejaVu Sans","fontSize":17,"fill":"white","stroke":"white","strokeWidth":7,"strokeJoin":"round","clip":true},"encoding":{"text":{"field":"t"}}},
{"data":{"name":"labels"},"transform":[{"filter":{"and":[{"field":"p","equal":"c"},{"field":"t","oneOf":["4.500","5.000","7.000","8.000","9.000","10.000","11.000"]}]}}],"mark":{"type":"text","angle":42,"font":"DejaVu Sans","fontSize":17,"fill":"white","stroke":"white","strokeWidth":7,"strokeJoin":"round","clip":true},"encoding":{"text":{"field":"t"}}},
{"data":{"name":"grid"},"mark":{"type":"point","shape":"diamond","filled":true,"size":324,"color":"#8e8e8e","opacity":1,"clip":true}},
{"data":{"name":"labels"},"transform":[{"filter":{"and":[{"field":"p","equal":"c"},{"field":"t","oneOf":["0.250","0.500","0.750","1.000","1.250","1.500","1.750","2.000"]}]}}],"mark":{"type":"text","angle":10,"font":"DejaVu Sans","fontSize":17,"fill":"black","clip":true},"encoding":{"text":{"field":"t"}}},
{"data":{"name":"labels"},"transform":[{"filter":{"and":[{"field":"p","equal":"c"},{"field":"t","oneOf":["2.500","3.000","3.500","4.000","12.000"]}]}}],"mark":{"type":"text","angle":22,"font":"DejaVu Sans","fontSize":17,"fill":"black","clip":true},"encoding":{"text":{"field":"t"}}},
{"data":{"name":"labels"},"transform":[{"filter":{"and":[{"field":"p","equal":"c"},{"field":"t","oneOf":["6.000"]}]}}],"mark":{"type":"text","angle":32,"font":"DejaVu Sans","fontSize":17,"fill":"black","clip":true},"encoding":{"text":{"field":"t"}}},
{"data":{"name":"labels"},"transform":[{"filter":{"and":[{"field":"p","equal":"c"},{"field":"t","oneOf":["4.500","5.000","7.000","8.000","9.000","10.000","11.000"]}]}}],"mark":{"type":"text","angle":42,"font":"DejaVu Sans","fontSize":17,"fill":"black","clip":true},"encoding":{"text":{"field":"t"}}},
{"data":{"name":"tags"},"transform":[{"filter":"datum.p=='c'"}],"mark":{"type":"text","font":"Open Sans","fontSize":28,"fill":"black"},"encoding":{"text":{"field":"t"}}}
]},
{"width":492,"height":616,
"title":{"text":"n=11\u00a0\u00a0\u00a0\u00a0\u00a0α=0.99"},
"encoding":{
"x":{"field":"x","type":"quantitative","scale":{"type":"log","domain":[4,32],"nice":false},"axis":{"values":[4,8,12,16,20,24,28,32],"format":"d","title":"Contributing Area (m² )"}},
"y":{"field":"y","type":"quantitative","scale":{"type":"log","domain":[2,5,80],"range":[616,468.5,0],"nice":false},"axis":{"values":[2,5,10,20,40,80],"format":"d","title":"Slope(%)"}}},
"layer":[
{"data":{"name":"lines"},"transform":[{"filter":"datum.p=='d'"}],"mark":{"type":"line","clip":true,"color":"#1a1a1a","strokeWidth":1},"encoding":{"detail":{"field":"l"}}},
{"data":{"name":"labels"},"transform":[{"filter":{"and":[{"field":"p","equal":"d"},{"field":"t","oneOf":["2.00","3.00","4.00","5.00","6.00","7.00","8.00","9.00","10.00","11.00","11.50"]}]}}],"mark":{"type":"text","angle":6,"font":"DejaVu Sans","fontSize":17,"fill":"white","stroke":"white","strokeWidth":7,"strokeJoin":"round","clip":true},"encoding":{"text":{"field":"t"}}},
{"data":{"name":"labels"},"transform":[{"filter":{"and":[{"field":"p","equal":"d"},{"field":"t","oneOf":["11.75","12.00","12.50","13.00","14.00"]}]}}],"mark":{"type":"text","angle":24,"font":"DejaVu Sans","fontSize":17,"fill":"white","stroke":"white","strokeWidth":7,"strokeJoin":"round","clip":true},"encoding":{"text":{"field":"t"}}},
{"data":{"name":"grid"},"mark":{"type":"point","shape":"diamond","filled":true,"size":324,"color":"#8e8e8e","opacity":1,"clip":true}},
{"data":{"name":"labels"},"transform":[{"filter":{"and":[{"field":"p","equal":"d"},{"field":"t","oneOf":["2.00","3.00","4.00","5.00","6.00","7.00","8.00","9.00","10.00","11.00","11.50"]}]}}],"mark":{"type":"text","angle":6,"font":"DejaVu Sans","fontSize":17,"fill":"black","clip":true},"encoding":{"text":{"field":"t"}}},
{"data":{"name":"labels"},"transform":[{"filter":{"and":[{"field":"p","equal":"d"},{"field":"t","oneOf":["11.75","12.00","12.50","13.00","14.00"]}]}}],"mark":{"type":"text","angle":24,"font":"DejaVu Sans","fontSize":17,"fill":"black","clip":true},"encoding":{"text":{"field":"t"}}},
{"data":{"name":"tags"},"transform":[{"filter":"datum.p=='d'"}],"mark":{"type":"text","font":"Open Sans","fontSize":28,"fill":"black"},"encoding":{"text":{"field":"t"}}}
]}
]
}
